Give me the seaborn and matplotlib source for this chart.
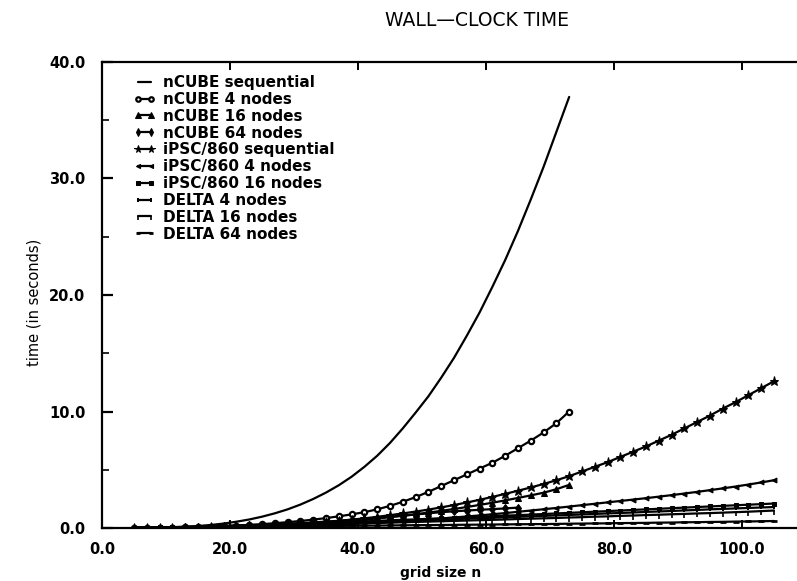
import matplotlib
matplotlib.use("Agg")
import matplotlib.pyplot as plt
from matplotlib.ticker import FormatStrFormatter, MultipleLocator
import seaborn as sns

# grid sizes used by each machine
n_ncube = list(range(5, 74, 2))
n_ncube64 = list(range(5, 66, 2))
n_long = list(range(5, 106, 2))

# wall-clock time in seconds
ncube_seq = [0.0, 0.01, 0.03, 0.06, 0.10, 0.17, 0.26, 0.38, 0.54, 0.73,
             0.97, 1.26, 1.60, 2.01, 2.49, 3.04, 3.67, 4.40, 5.25, 6.20,
             7.30, 8.55, 9.90, 11.3, 12.9, 14.6, 16.5, 18.5, 20.7, 23.0,
             25.5, 28.2, 31.0, 34.0, 37.0]
ncube_4 = [0.0, 0.01, 0.02, 0.04, 0.06, 0.09, 0.12, 0.16, 0.21, 0.27,
           0.33, 0.41, 0.50, 0.60, 0.72, 0.85, 1.00, 1.17, 1.36, 1.60,
           1.90, 2.25, 2.65, 3.10, 3.60, 4.10, 4.60, 5.10, 5.60, 6.20,
           6.85, 7.50, 8.20, 9.00, 10.0]
ncube_16 = [0.0, 0.0, 0.01, 0.02, 0.03, 0.04, 0.06, 0.08, 0.11, 0.14,
            0.18, 0.22, 0.27, 0.33, 0.39, 0.46, 0.54, 0.62, 0.72, 0.82,
            0.93, 1.05, 1.18, 1.32, 1.47, 1.63, 1.80, 1.98, 2.17, 2.37,
            2.58, 2.80, 3.03, 3.33, 3.70]
ncube_64 = [0.01, 0.02, 0.03, 0.04, 0.06, 0.08, 0.11, 0.14, 0.18, 0.22,
            0.26, 0.31, 0.36, 0.42, 0.48, 0.55, 0.62, 0.70, 0.78, 0.87,
            0.96, 1.06, 1.16, 1.26, 1.36, 1.43, 1.50, 1.56, 1.62, 1.68,
            1.75]
ipsc_seq = [0.0, 0.0, 0.01, 0.01, 0.02, 0.03, 0.05, 0.07, 0.10, 0.14,
            0.18, 0.23, 0.29, 0.36, 0.43, 0.52, 0.61, 0.72, 0.83, 0.96,
            1.10, 1.25, 1.41, 1.58, 1.77, 1.97, 2.19, 2.42, 2.67, 2.93,
            3.20, 3.48, 3.78, 4.10, 4.45, 4.85, 5.25, 5.65, 6.10, 6.55,
            7.00, 7.50, 8.00, 8.55, 9.10, 9.65, 10.25, 10.80, 11.40, 12.00,
            12.60]
ipsc_4 = [0.0, 0.0, 0.01, 0.01, 0.02, 0.03, 0.04, 0.05, 0.07, 0.09,
          0.11, 0.13, 0.16, 0.19, 0.22, 0.26, 0.30, 0.35, 0.40, 0.46,
          0.52, 0.58, 0.65, 0.73, 0.81, 0.90, 0.99, 1.08, 1.18, 1.28,
          1.39, 1.50, 1.61, 1.72, 1.84, 1.96, 2.08, 2.20, 2.32, 2.44,
          2.56, 2.69, 2.82, 2.96, 3.10, 3.25, 3.40, 3.56, 3.73, 3.91,
          4.10]
ipsc_16 = [0.02, 0.04, 0.06, 0.08, 0.10, 0.12, 0.15, 0.18, 0.21, 0.24,
           0.27, 0.30, 0.34, 0.37, 0.41, 0.45, 0.49, 0.53, 0.57, 0.61,
           0.66, 0.70, 0.74, 0.79, 0.83, 0.88, 0.92, 0.97, 1.01, 1.06,
           1.10, 1.15, 1.20, 1.25, 1.30, 1.35, 1.40, 1.45, 1.50, 1.55,
           1.60, 1.65, 1.70, 1.75, 1.80, 1.85, 1.90, 1.95, 2.00, 2.05,
           2.10]
delta_4 = [0.02, 0.03, 0.05, 0.07, 0.09, 0.11, 0.13, 0.16, 0.18, 0.21,
           0.24, 0.27, 0.30, 0.33, 0.36, 0.39, 0.43, 0.46, 0.50, 0.53,
           0.57, 0.60, 0.64, 0.68, 0.72, 0.76, 0.80, 0.84, 0.88, 0.92,
           0.96, 1.00, 1.04, 1.08, 1.12, 1.16, 1.21, 1.25, 1.29, 1.33,
           1.38, 1.42, 1.46, 1.51, 1.55, 1.60, 1.64, 1.68, 1.72, 1.76,
           1.80]
delta_16 = [0.03, 0.04, 0.05, 0.07, 0.08, 0.10, 0.12, 0.14, 0.16, 0.18,
            0.20, 0.22, 0.25, 0.27, 0.30, 0.32, 0.35, 0.38, 0.41, 0.43,
            0.46, 0.49, 0.52, 0.55, 0.58, 0.61, 0.64, 0.67, 0.70, 0.73,
            0.77, 0.80, 0.83, 0.86, 0.90, 0.93, 0.97, 1.00, 1.04, 1.07,
            1.11, 1.14, 1.18, 1.21, 1.25, 1.28, 1.32, 1.36, 1.40, 1.45,
            1.50]
delta_64 = [0.04, 0.05, 0.05, 0.06, 0.07, 0.07, 0.08, 0.09, 0.10, 0.11,
            0.12, 0.13, 0.14, 0.15, 0.16, 0.17, 0.18, 0.19, 0.20, 0.21,
            0.22, 0.23, 0.24, 0.25, 0.26, 0.27, 0.28, 0.29, 0.30, 0.31,
            0.32, 0.33, 0.34, 0.35, 0.37, 0.38, 0.39, 0.40, 0.42, 0.43,
            0.44, 0.46, 0.47, 0.49, 0.50, 0.52, 0.53, 0.55, 0.56, 0.58,
            0.60]

series = [
    ("nCUBE sequential", n_ncube, ncube_seq, dict(marker=None)),
    ("nCUBE 4 nodes", n_ncube, ncube_4, dict(marker="o", markerfacecolor="white", markersize=3.8, markeredgewidth=1.6)),
    ("nCUBE 16 nodes", n_ncube, ncube_16, dict(marker="^", markersize=4.5)),
    ("nCUBE 64 nodes", n_ncube64, ncube_64, dict(marker="d", markersize=4.5)),
    ("iPSC/860 sequential", n_long, ipsc_seq, dict(marker="*", markersize=6.5)),
    ("iPSC/860 4 nodes", n_long, ipsc_4, dict(marker="<", markersize=3.5)),
    ("iPSC/860 16 nodes", n_long, ipsc_16, dict(marker="s", markersize=3.5)),
    ("DELTA 4 nodes", n_long, delta_4, dict(marker="|", markersize=3.5, markeredgewidth=1.4)),
    ("DELTA 16 nodes", n_long, delta_16, dict(marker=3, markersize=3, markeredgewidth=1.2)),
    ("DELTA 64 nodes", n_long, delta_64, dict(marker="_", markersize=4, markeredgewidth=2)),
]

sns.set_style("white")
plt.rcParams.update({
    "font.family": ["DejaVu Sans"],
    "text.color": "black",
    "xtick.color": "black",
    "ytick.color": "black",
    "xtick.direction": "in",
    "ytick.direction": "in",
})

W, H = 797, 581
fig = plt.figure(figsize=(W / 100, H / 100), dpi=100)
ax = fig.add_axes([102 / W, 1 - 528 / H, (W - 102) / W, (528 - 62) / H])

for label, xs, ys, style in series:
    sns.lineplot(x=xs, y=ys, ax=ax, color="black", linewidth=1.6,
                 label=label, markeredgecolor="black", **style)

ax.set_xlim(0, 108.6)
ax.set_ylim(0, 40)
ax.xaxis.set_major_locator(MultipleLocator(20))
ax.yaxis.set_major_locator(MultipleLocator(10))
ax.yaxis.set_minor_locator(MultipleLocator(5))
ax.xaxis.set_major_formatter(FormatStrFormatter("%.1f"))
ax.yaxis.set_major_formatter(FormatStrFormatter("%.1f"))

for side in ("left", "bottom", "top"):
    ax.spines[side].set_visible(True)
    ax.spines[side].set_linewidth(1.6)
    ax.spines[side].set_color("black")
ax.spines["right"].set_visible(False)

ax.tick_params(axis="y", which="major", direction="in", length=8, width=1.6,
               left=True, right=False, pad=12, colors="black")
ax.tick_params(axis="y", which="minor", direction="in", length=5, width=1.2,
               left=True, right=False, colors="black")
ax.tick_params(axis="x", which="major", direction="in", length=6, width=1.4,
               bottom=True, top=True, pad=10, colors="black")
tick_font = dict(family="DejaVu Sans", weight="bold", size=10.5)
for t in ax.get_xticklabels() + ax.get_yticklabels():
    t.set_fontproperties(tick_font)

ax.set_xlabel("")
ax.set_ylabel("")
fig.text(441 / W, 1 - 573 / H, "grid size n", ha="center", va="center",
         fontsize=10, fontweight="bold", color="black")
fig.text(34 / W, 1 - 302 / H, "time (in seconds)", ha="center", va="center",
         rotation=90, fontsize=10.5, color="black")
fig.text(477 / W, 1 - 21 / H, "WALL\u2014CLOCK TIME", ha="center",
         va="center", fontsize=13.5, color="black")

leg = ax.legend(loc="upper left", bbox_to_anchor=(0.0446, 0.972), frameon=False,
                prop=dict(family="DejaVu Sans", weight="bold", size=11),
                handlelength=1.5, handletextpad=0.45, labelspacing=0.12,
                borderpad=0, borderaxespad=0, numpoints=2, markerscale=0.85)
for t in leg.get_texts():
    t.set_color("black")

fig.savefig("out.png", dpi=100, facecolor="white")
